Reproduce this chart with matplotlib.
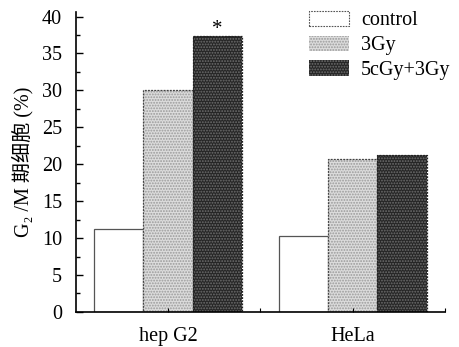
import numpy as np
import matplotlib
matplotlib.use("Agg")
import matplotlib.pyplot as plt
from matplotlib.patches import Patch

plt.rcParams['font.family'] = ['Liberation Serif', 'Noto Sans CJK SC']
plt.rcParams['hatch.linewidth'] = 0.9

cells = ["hep G2", "HeLa"]
groups = ["control", "3Gy", "5cGy+3Gy"]
control = [11.3, 10.3]
gy3 = [30.1, 20.7]
cgy_gy = [37.4, 21.3]

fig = plt.figure(figsize=(4.6, 3.47), dpi=100)
ax = fig.add_axes([0.165, 0.101, 0.802, 0.864])

x = np.array([1, 3])
w = 0.535

light = dict(color="#dcdcdc", edgecolor="#9a9a9a", hatch="......", linewidth=0)
dark = dict(color="#262626", edgecolor="#6e6e6e", hatch="......", linewidth=0)

# control: plain white bars
ax.bar(x - w, control, w, color="white", edgecolor="#555555", linewidth=0.9)

# 3Gy: light textured
ax.bar(x, gy3, w, **light)
ax.bar(x, gy3, w, color="none", edgecolor="#444444", linewidth=0.9, linestyle=(0, (1.5, 1)))

# 5cGy+3Gy: dark textured
ax.bar(x + w, cgy_gy, w, **dark)
ax.bar(x + w, cgy_gy, w, color="none", edgecolor="#222222", linewidth=0.9, linestyle=(0, (1.5, 1)))

ax.text(x[0] + w, cgy_gy[0] - 0.4, "*", ha="center", va="bottom", fontsize=15)

ax.set_xlim(0, 4)
ax.set_ylim(0, 40.6)
ax.set_yticks(np.arange(0, 41, 5))
ax.set_yticks(np.arange(2.5, 40, 5), minor=True)
ax.set_xticks([1, 2, 3, 4])
ax.set_xticklabels([cells[0], "", cells[1], ""])
ax.tick_params(axis="y", which="major", direction="in", length=5, width=1, labelsize=14.5, pad=10)
ax.tick_params(axis="y", which="minor", direction="in", length=3, width=1)
ax.tick_params(axis="x", direction="in", length=3, width=0.8, labelsize=14.5, pad=11)
for s in ["top", "right"]:
    ax.spines[s].set_visible(False)
ax.spines["left"].set_linewidth(1.2)
ax.spines["bottom"].set_linewidth(1.2)

ax.set_ylabel("G₂ /M 期细胞 (%)", fontsize=14.5, labelpad=6)

handles = [
    Patch(facecolor="white", edgecolor="#555555", linestyle=(0, (1.5, 1)), linewidth=0.8),
    Patch(**{k: v for k, v in light.items() if k != "color"}, facecolor=light["color"]),
    Patch(**{k: v for k, v in dark.items() if k != "color"}, facecolor=dark["color"]),
]
ax.legend(handles, groups, loc="upper right", bbox_to_anchor=(1.065, 1.065), frameon=False,
          fontsize=14.5, handlelength=2.0, handleheight=0.8, labelspacing=0.25, handletextpad=0.6)

fig.savefig("out.png", dpi=100)
